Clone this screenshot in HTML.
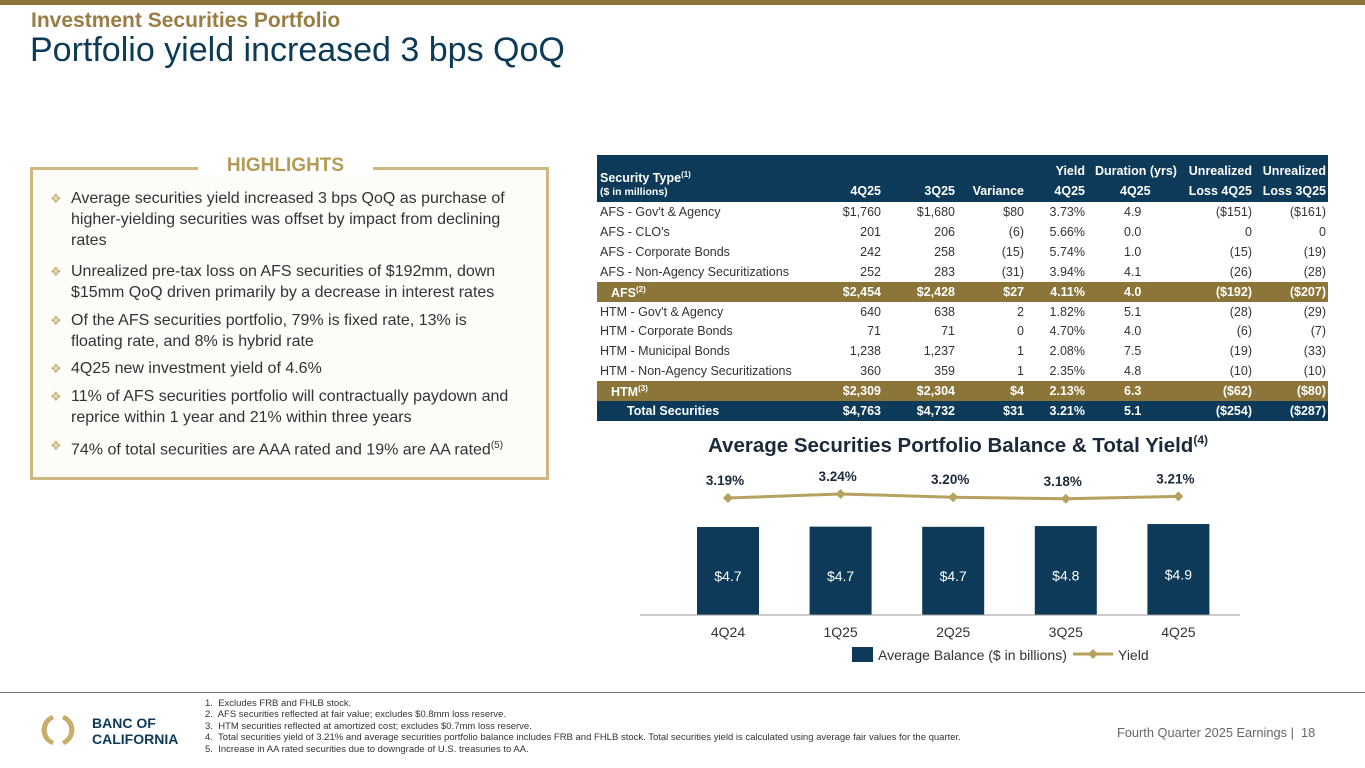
<!DOCTYPE html>
<html><head><meta charset="utf-8">
<style>
*{margin:0;padding:0;box-sizing:border-box}
body{width:1365px;height:768px;position:relative;background:#fff;font-family:"Liberation Sans",Arial,sans-serif;overflow:hidden}
.abs{position:absolute}
#topbar{left:0;top:0;width:1365px;height:5px;background:#8b7437}
#kicker{left:31px;top:9px;font-size:21px;font-weight:bold;color:#9a7d45}
#title{left:30px;top:31px;font-size:34px;color:#0d3a57}
#hbox{left:30px;top:167px;width:519px;height:313px;border:3px solid #cdb882;background:#fdfcf9}
#hlabel{left:198px;top:155px;width:175px;background:#fff;text-align:center;font-size:19px;font-weight:bold;color:#b39a55}
.bul{position:absolute;left:50px;width:478px;font-size:16px;line-height:21px;color:#333;padding-left:21px}
.bul::before{content:"\2756";position:absolute;left:0;top:0;color:#c9b57c;font-size:13px}
.bul sup{font-size:10px}
#tbl{left:597px;top:155px;width:731px;height:266px;font-size:12.5px;color:#333}
.row{position:absolute;left:0;width:731px;height:20px}
.row span{position:absolute;top:3px;white-space:nowrap}
.hdr{background:#0c3a58;color:#fff;font-weight:bold}
.gold{background:#8c7538;color:#fff;font-weight:bold}
.navy{background:#0c3a58;color:#fff;font-weight:bold}
.r{text-align:right}
#chart{left:600px;top:430px}
#footer-line{left:0;top:692px;width:1365px;height:1px;background:#777}
#notes{left:205px;top:698px;font-size:9.5px;line-height:11.4px;color:#333}
#pagenum{left:1117px;top:725px;font-size:12.8px;color:#666}
#logo-text{left:92px;top:715px;font-size:14px;font-weight:bold;color:#0c3a58;line-height:16px}
</style></head><body>
<div id="topbar" class="abs"></div>
<div id="kicker" class="abs">Investment Securities Portfolio</div>
<div id="title" class="abs">Portfolio yield increased 3 bps QoQ</div>

<div id="hbox" class="abs"></div>
<div id="hlabel" class="abs">HIGHLIGHTS</div>
<div class="bul" style="top:188px">Average securities yield increased 3 bps QoQ as purchase of higher-yielding securities was offset by impact from declining rates</div>
<div class="bul" style="top:261px">Unrealized pre-tax loss on AFS securities of $192mm, down $15mm QoQ driven primarily by a decrease in interest rates</div>
<div class="bul" style="top:310px">Of the AFS securities portfolio, 79% is fixed rate, 13% is<br>floating rate, and 8% is hybrid rate</div>
<div class="bul" style="top:358px">4Q25 new investment yield of 4.6%</div>
<div class="bul" style="top:386px">11% of AFS securities portfolio will contractually paydown and reprice within 1 year and 21% within three years</div>
<div class="bul" style="top:435px">74% of total securities are AAA rated and 19% are AA rated<sup>(5)</sup></div>

<div id="tbl" class="abs"></div>

<svg id="chart" class="abs" width="640" height="245"></svg>

<div id="footer-line" class="abs"></div>
<svg class="abs" style="left:38px;top:712px" width="40" height="36">
<path d="M14 3 A16 16 0 0 0 14 33 L16 29 A12 12 0 0 1 16 7 Z" fill="#c9ad6a"/>
<path d="M26 3 A16 16 0 0 1 26 33 L24 29 A12 12 0 0 0 24 7 Z" fill="#c9ad6a"/>
</svg>
<div id="logo-text" class="abs">BANC OF<br>CALIFORNIA</div>
<div id="notes" class="abs">
1.&nbsp; Excludes FRB and FHLB stock.<br>
2.&nbsp; AFS securities reflected at fair value; excludes $0.8mm loss reserve.<br>
3.&nbsp; HTM securities reflected at amortized cost; excludes $0.7mm loss reserve.<br>
4.&nbsp; Total securities yield of 3.21% and average securities portfolio balance includes FRB and FHLB stock. Total securities yield is calculated using average fair values for the quarter.<br>
5.&nbsp; Increase in AA rated securities due to downgrade of U.S. treasuries to AA.</div>
<div id="pagenum" class="abs">Fourth Quarter 2025 Earnings |&nbsp; 18</div>

<script>
// ---- table ----
const rows = [
 ["AFS - Gov't & Agency","$1,760","$1,680","$80","3.73%","4.9","($151)","($161)",""],
 ["AFS - CLO's","201","206","(6)","5.66%","0.0","0","0",""],
 ["AFS - Corporate Bonds","242","258","(15)","5.74%","1.0","(15)","(19)",""],
 ["AFS - Non-Agency Securitizations","252","283","(31)","3.94%","4.1","(26)","(28)",""],
 ["AFS<sup>(2)</sup>","$2,454","$2,428","$27","4.11%","4.0","($192)","($207)","gold"],
 ["HTM - Gov't & Agency","640","638","2","1.82%","5.1","(28)","(29)",""],
 ["HTM - Corporate Bonds","71","71","0","4.70%","4.0","(6)","(7)",""],
 ["HTM - Municipal Bonds","1,238","1,237","1","2.08%","7.5","(19)","(33)",""],
 ["HTM - Non-Agency Securitizations","360","359","1","2.35%","4.8","(10)","(10)",""],
 ["HTM<sup>(3)</sup>","$2,309","$2,304","$4","2.13%","6.3","($62)","($80)","gold"],
 ["Total Securities","$4,763","$4,732","$31","3.21%","5.1","($254)","($287)","navy"]
];
const tbl=document.getElementById('tbl');
const hdr=document.createElement('div');
hdr.className='row hdr';hdr.style.top='0px';hdr.style.height='47px';


hdr.innerHTML='<span style="left:3px;top:15px">Security Type<sup style="font-size:8px">(1)</sup></span><span style="left:3px;top:31px;font-size:10.5px">($ in millions)</span>'+
'<span class="r" style="right:447px;top:29px">4Q25</span><span class="r" style="right:373px;top:29px">3Q25</span><span class="r" style="right:304px;top:29px">Variance</span>'+
'<span class="r" style="right:243px;top:9px">Yield</span><span class="r" style="right:243px;top:29px">4Q25</span>'+
'<span style="left:498px;top:9px">Duration (yrs)</span><span style="left:523px;top:29px">4Q25</span>'+
'<span class="r" style="right:76px;top:9px">Unrealized</span><span class="r" style="right:76px;top:29px">Loss 4Q25</span>'+
'<span class="r" style="right:2px;top:9px">Unrealized</span><span class="r" style="right:2px;top:29px">Loss 3Q25</span>';
tbl.appendChild(hdr);
rows.forEach((r,i)=>{
 const d=document.createElement('div');
 d.className='row '+r[8];
 d.style.top=(47+i*19.9)+'px';
 
 
 const lp=r[8]==='gold'?14:(r[8]==='navy'?30:3);
 let h='<span style="left:'+lp+'px">'+r[0].replace('<sup>','<sup style="font-size:8px">')+'</span>';
 const cols=[1,2,3,4,6,7];const rr=[284,358,427,488,655,729];
 cols.forEach((c,k)=>{h+='<span class="r" style="right:'+(731-rr[k])+'px">'+r[c]+'</span>';});
 h+='<span style="left:527px">'+r[5]+'</span>';
 d.innerHTML=h;
 tbl.appendChild(d);
});
</script>
<script>
// ---- chart ----
const categories=["4Q24","1Q25","2Q25","3Q25","4Q25"];
const balances=[4.70,4.72,4.71,4.75,4.86];
const balanceLabels=["$4.7","$4.7","$4.7","$4.8","$4.9"];
const yields=[3.19,3.24,3.20,3.18,3.21];
const yieldLabels=["3.19%","3.24%","3.20%","3.18%","3.21%"];
const NS='http://www.w3.org/2000/svg';
const svg=document.getElementById('chart');
const baseY=185, bw=62;
const xC=i=>128+i*112.6;
const yB=v=>baseY-v*18.72;
const yY=v=>68-(v-3.19)*80;
function el(t,a){const e=document.createElementNS(NS,t);for(const k in a)e.setAttribute(k,a[k]);svg.appendChild(e);return e;}
let t=el('text',{x:358,y:22,'text-anchor':'middle','font-size':20.5,'font-weight':'bold',fill:'#1a2a3a'});


t.innerHTML='Average Securities Portfolio Balance &amp; Total Yield<tspan font-size="12" dy="-8">(4)</tspan>';
balances.forEach((v,i)=>{
 const r=el('rect',{x:xC(i)-bw/2,y:yB(v),width:bw,height:baseY-yB(v),fill:'#0c3a58'});
 
 
 const l=el('text',{x:xC(i),y:(yB(v)+baseY)/2+10,'text-anchor':'middle','font-size':14,fill:'#fff'});
 
 
 l.textContent=balanceLabels[i];
 const c=el('text',{x:xC(i),y:baseY+22,'text-anchor':'middle','font-size':14,fill:'#333'});
 
 
 c.textContent=categories[i];
});
const ax=el('line',{x1:40,x2:640,y1:baseY,y2:baseY,stroke:'#999','stroke-width':1});


const pl=el('polyline',{points:yields.map((v,i)=>xC(i)+','+yY(v)).join(' '),fill:'none',stroke:'#b6a260','stroke-width':3});


yields.forEach((v,i)=>{
 const x=xC(i),y=yY(v);
 const m=el('polygon',{points:`${x},${y-5} ${x+5},${y} ${x},${y+5} ${x-5},${y}`,fill:'#b6a260'});
 
 
 const l=el('text',{x:x-3,y:y-13,'text-anchor':'middle','font-size':13.5,'font-weight':'bold',fill:'#1a2a3a'});
 
 
 l.textContent=yieldLabels[i];
});
const lg=el('rect',{x:252,y:217,width:21,height:15,fill:'#0c3a58'});


let lt=el('text',{x:278,y:230,'font-size':14,fill:'#333'});


lt.textContent='Average Balance ($ in billions)';
const ll=el('line',{x1:473,x2:513,y1:224,y2:224,stroke:'#b6a260','stroke-width':3});


const lm=el('polygon',{points:'493,219 498,224 493,229 488,224',fill:'#b6a260'});


let ly=el('text',{x:518,y:230,'font-size':14,fill:'#333'});


ly.textContent='Yield';
</script>
</body></html>
